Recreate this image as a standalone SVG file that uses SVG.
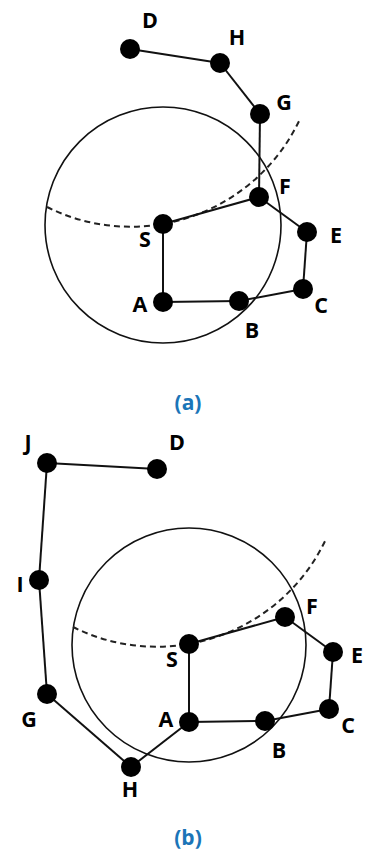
<svg xmlns="http://www.w3.org/2000/svg" width="365" height="853" viewBox="0 0 365 853">
<style>
.bg{fill:#fff}
.ring{fill:none;stroke:#111;stroke-width:1.6}
.dash{fill:none;stroke:#222;stroke-width:2;stroke-dasharray:6 4}
.edge{stroke:#111;stroke-width:2;fill:none}
.dot{fill:#000}
.lbl{font-family:"Open Sans","Liberation Sans",sans-serif;font-weight:bold;font-size:21.5px;fill:#000;text-anchor:middle}
.cap{font-family:"Open Sans","Liberation Sans",sans-serif;font-weight:bold;font-size:21px;fill:#1b75b8;text-anchor:middle}
</style>
<rect class="bg" x="0" y="0" width="365" height="853"/>
<g id="panel-a-background">
<circle class="ring" cx="163" cy="225" r="118"/>
<path class="dash" d="M47,207 A187,187 0 0 0 300,119"/>
</g>
<g id="connectors-a">
<line class="edge" x1="130" y1="49" x2="220" y2="63"/>
<line class="edge" x1="220" y1="63" x2="260" y2="114"/>
<line class="edge" x1="260" y1="114" x2="259" y2="197"/>
<line class="edge" x1="259" y1="197" x2="163" y2="224"/>
<line class="edge" x1="259" y1="197" x2="307" y2="232"/>
<line class="edge" x1="307" y1="232" x2="303" y2="289"/>
<line class="edge" x1="303" y1="289" x2="239" y2="301"/>
<line class="edge" x1="239" y1="301" x2="163" y2="302"/>
<line class="edge" x1="163" y1="302" x2="163" y2="224"/>
</g>
<g id="a-D"><circle class="dot" cx="130" cy="49" r="10"/><text class="lbl" x="150" y="28">D</text></g>
<g id="a-H"><circle class="dot" cx="220" cy="63" r="10"/><text class="lbl" x="237" y="45">H</text></g>
<g id="a-G"><circle class="dot" cx="260" cy="114" r="10"/><text class="lbl" x="284" y="110">G</text></g>
<g id="a-F"><circle class="dot" cx="259" cy="197" r="10"/><text class="lbl" x="285" y="194">F</text></g>
<g id="a-E"><circle class="dot" cx="307" cy="232" r="10"/><text class="lbl" x="336" y="243">E</text></g>
<g id="a-C"><circle class="dot" cx="303" cy="289" r="10"/><text class="lbl" x="321" y="313">C</text></g>
<g id="a-B"><circle class="dot" cx="239" cy="301" r="10"/><text class="lbl" x="252" y="338">B</text></g>
<g id="a-A"><circle class="dot" cx="163" cy="302" r="10"/><text class="lbl" x="140" y="312">A</text></g>
<g id="a-S"><circle class="dot" cx="163" cy="224" r="10"/><text class="lbl" x="145" y="247">S</text></g>
<text class="cap" x="188" y="410">(a)</text>

<g id="panel-b-background">
<circle class="ring" cx="189" cy="645" r="117"/>
<path class="dash" d="M73,627 A187,187 0 0 0 326,539"/>
</g>
<g id="connectors-b">
<line class="edge" x1="157" y1="469" x2="47" y2="463"/>
<line class="edge" x1="47" y1="463" x2="39" y2="580"/>
<line class="edge" x1="39" y1="580" x2="47" y2="694"/>
<line class="edge" x1="47" y1="694" x2="131" y2="767"/>
<line class="edge" x1="131" y1="767" x2="189" y2="722"/>
<line class="edge" x1="189" y1="722" x2="189" y2="644"/>
<line class="edge" x1="189" y1="644" x2="285" y2="617"/>
<line class="edge" x1="285" y1="617" x2="333" y2="652"/>
<line class="edge" x1="333" y1="652" x2="329" y2="709"/>
<line class="edge" x1="329" y1="709" x2="265" y2="721"/>
<line class="edge" x1="265" y1="721" x2="189" y2="722"/>
</g>
<g id="b-J"><circle class="dot" cx="47" cy="463" r="10"/><text class="lbl" x="28" y="450">J</text></g>
<g id="b-D"><circle class="dot" cx="157" cy="469" r="10"/><text class="lbl" x="177" y="450">D</text></g>
<g id="b-I"><circle class="dot" cx="39" cy="580" r="10"/><text class="lbl" x="20" y="592">I</text></g>
<g id="b-G"><circle class="dot" cx="47" cy="694" r="10"/><text class="lbl" x="29" y="727">G</text></g>
<g id="b-H"><circle class="dot" cx="131" cy="767" r="10"/><text class="lbl" x="130" y="797">H</text></g>
<g id="b-A"><circle class="dot" cx="189" cy="722" r="10"/><text class="lbl" x="166" y="727">A</text></g>
<g id="b-S"><circle class="dot" cx="189" cy="644" r="10"/><text class="lbl" x="172" y="667">S</text></g>
<g id="b-F"><circle class="dot" cx="285" cy="617" r="10"/><text class="lbl" x="312" y="614">F</text></g>
<g id="b-E"><circle class="dot" cx="333" cy="652" r="10"/><text class="lbl" x="363" y="663" style="text-anchor:end">E</text></g>
<g id="b-C"><circle class="dot" cx="329" cy="709" r="10"/><text class="lbl" x="348" y="733">C</text></g>
<g id="b-B"><circle class="dot" cx="265" cy="721" r="10"/><text class="lbl" x="279" y="758">B</text></g>
<text class="cap" x="188" y="845">(b)</text>
</svg>
